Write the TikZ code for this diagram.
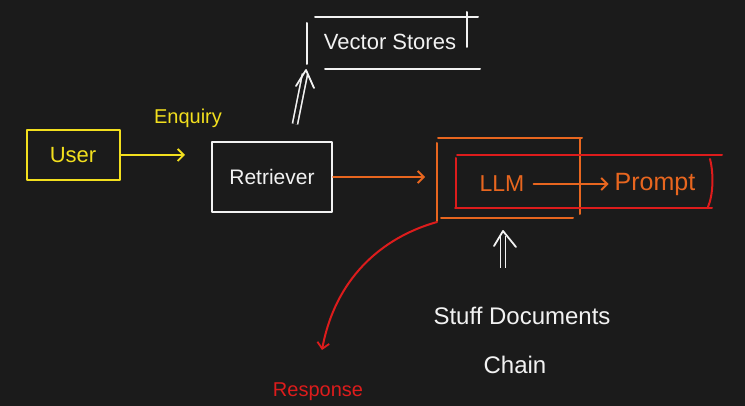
\documentclass[tikz,border=0pt]{standalone}
\usepackage{fontspec}
\setmainfont{Liberation Sans}
\usetikzlibrary{arrows.meta}
\definecolor{bg}{HTML}{1B1B1B}
\definecolor{hwhite}{HTML}{F2F2F2}
\definecolor{hyellow}{HTML}{F2DF1E}
\definecolor{horange}{HTML}{E8661F}
\definecolor{hred}{HTML}{DD1C1C}
\tikzset{
  pen/.style={line width=2pt, line cap=round, line join=round},
  lbl/.style={inner sep=1pt},
  fs/.style={font=\fontsize{#1}{#1}\selectfont},
  barb/.style={-{Straight Barb[length=6pt,width=12pt,line width=1.8pt]}},
  dbl/.style={hwhite, line width=1.6pt, double=bg, double distance=3.5pt},
}
\begin{document}
\begin{tikzpicture}[x=1pt,y=-1pt]
\fill[bg] (0,0) rectangle (745,406);
\useasboundingbox (0,0) rectangle (745,406);

% User
\node[pen, draw=hyellow, minimum width=93pt, minimum height=50pt, lbl, fs=22, text=hyellow] (user) at (73,155) {User};
\node[lbl, fs=20, text=hyellow] (enq) at (188,118) {Enquiry};
\coordinate (enqend) at (185,155);
\draw[pen, hyellow, barb] (user.east) -- (enqend);

% Retriever
\node[pen, draw=hwhite, minimum width=120pt, minimum height=70pt, lbl, fs=21, text=hwhite] (ret) at (272,177) {Retriever};

% Vector stores
\node[lbl, fs=22, text=hwhite] (vs) at (390,42) {Vector Stores};
\draw[pen, hwhite] (315,17) -- (478,17);
\draw[pen, hwhite] (325,69) -- (480,69);
\draw[pen, hwhite] (467,12) -- (467,47);
\draw[pen, hwhite] (307,23) -- (307,64);
\coordinate (vsin) at (306,70);
\draw[dbl] (ret.north -| 295,0) ++(0,-17) -- ++(10,-50);
\draw[pen, hwhite, line width=1.8pt] (vsin) ++(-10,16) -- (vsin) -- ++(8,18);

% Retriever -> chain
\coordinate (chainin) at (425,177);
\draw[pen, horange, barb] (ret.east) -- (chainin);

% Orange bracket
\draw[pen, horange] (438,138) -- (582,138);
\draw[pen, horange] (437,143) -- (437,221);
\draw[pen, horange] (580,138) -- (580,214);
\draw[pen, horange] (441,218) -- (573,218);

% Red box
\draw[pen, hred] (457,155) -- (722,155);
\draw[pen, hred] (456,158) -- (456,207);
\draw[pen, hred] (455,208) -- (712,208);
\draw[pen, hred] (710,159) .. controls (714,175) and (713,195) .. (708,207);

% LLM -> Prompt
\node[lbl, fs=23, text=horange] (llm) at (502,184) {LLM};
\node[lbl, fs=25, text=horange] (prompt) at (655,184) {Prompt};
\draw[pen, horange, barb, shorten >=5pt] (llm.east) ++(8,0) -- (prompt.west);

% Stuff documents chain
\node[lbl, fs=24, text=hwhite] (stuff) at (522,316) {Stuff Documents};
\node[lbl, fs=24, text=hwhite] (chain) at (515,365) {Chain};
\coordinate (chainbot) at (503,231);
\draw[dbl] (503,268) -- (503,236);
\draw[pen, hwhite, line width=1.8pt] (chainbot) ++(-9,15) -- (chainbot) -- ++(13,16);

% Response
\coordinate (respstart) at (437,222);
\node[lbl, fs=20, text=hred] (resp) at (318,392) {Response};
\draw[pen, hred, barb] (respstart) .. controls (380,238) and (335,280) .. (322,350);
\end{tikzpicture}
\end{document}
